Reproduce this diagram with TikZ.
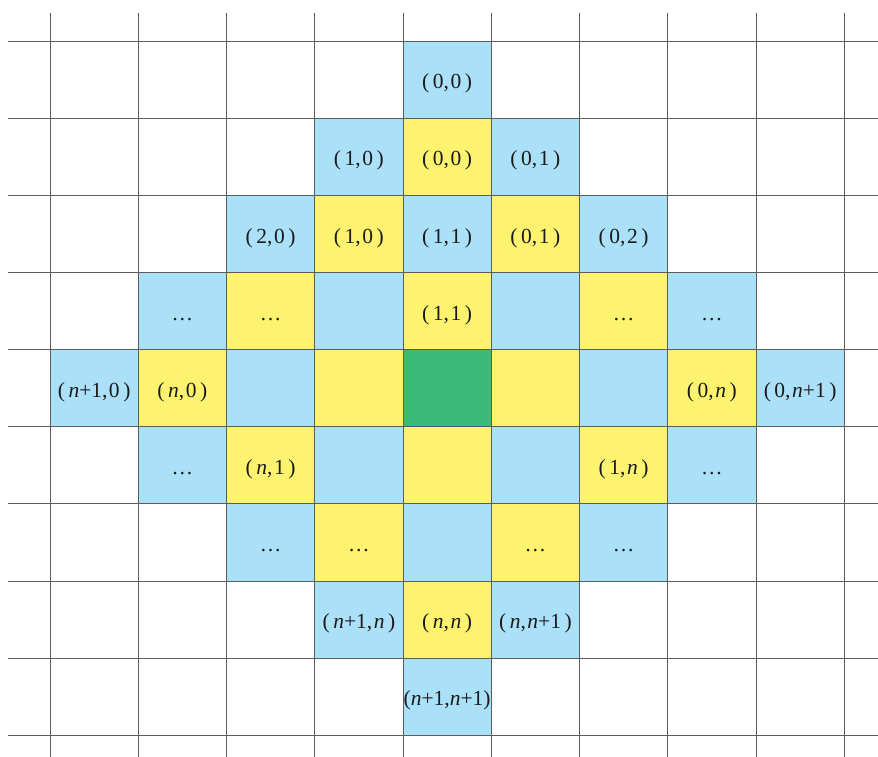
\documentclass[tikz,border=0pt]{standalone}
\usepackage{fontspec}
\setmainfont{Liberation Serif}
\definecolor{cB}{HTML}{ABE0F9}
\definecolor{cY}{HTML}{FEF36E}
\definecolor{cG}{HTML}{3CBA7A}
\definecolor{gridc}{HTML}{5C5C5C}
\definecolor{txt}{HTML}{1A1A1A}
\newcommand\nn{\textit{n}}
\newcommand\pp[2]{(\,#1,\kern1.5pt#2\,)}
\newcommand\ppt[2]{(#1,#2)}
\newcommand\dd{\textellipsis}
\begin{document}
\begin{tikzpicture}[x=1pt,y=-1pt,
  lab/.style={anchor=base,inner sep=0pt,text=txt,font=\fontsize{21.5}{26}\selectfont},
  gridline/.style={draw=gridc,line width=0.9pt}]
\useasboundingbox (0,0) rectangle (878,757);
\foreach \r/\c/\col/\t in {
  0/4/cB/{\pp{0}{0}},
  1/3/cB/{\pp{1}{0}}, 1/4/cY/{\pp{0}{0}}, 1/5/cB/{\pp{0}{1}},
  2/2/cB/{\pp{2}{0}}, 2/3/cY/{\pp{1}{0}}, 2/4/cB/{\pp{1}{1}}, 2/5/cY/{\pp{0}{1}}, 2/6/cB/{\pp{0}{2}},
  3/1/cB/{\dd}, 3/2/cY/{\dd}, 3/3/cB/{}, 3/4/cY/{\pp{1}{1}}, 3/5/cB/{}, 3/6/cY/{\dd}, 3/7/cB/{\dd},
  4/0/cB/{\pp{\nn+1}{0}}, 4/1/cY/{\pp{\nn}{0}}, 4/2/cB/{}, 4/3/cY/{}, 4/4/cG/{}, 4/5/cY/{}, 4/6/cB/{}, 4/7/cY/{\pp{0}{\nn}}, 4/8/cB/{\pp{0}{\nn+1}},
  5/1/cB/{\dd}, 5/2/cY/{\pp{\nn}{1}}, 5/3/cB/{}, 5/4/cY/{}, 5/5/cB/{}, 5/6/cY/{\pp{1}{\nn}}, 5/7/cB/{\dd},
  6/2/cB/{\dd}, 6/3/cY/{\dd}, 6/4/cB/{}, 6/5/cY/{\dd}, 6/6/cB/{\dd},
  7/3/cB/{\pp{\nn+1}{\nn}}, 7/4/cY/{\pp{\nn}{\nn}}, 7/5/cB/{\pp{\nn}{\nn+1}},
  8/4/cB/{\ppt{\nn+1}{\nn+1}}}{
  \fill[\col] ({50+88.25*\c},{41.3+77.1*\r}) rectangle ({50+88.25*(\c+1)},{41.3+77.1*(\r+1)});
  \node[lab] (cell-\r-\c) at ({50+88.25*(\c+0.5)},{41.3+77.1*(\r+0.5)+9}) {\t};
}
\foreach \k in {0,...,9}{
  \draw[gridline] (8,{41.3+77.1*\k}) -- (878,{41.3+77.1*\k});
  \draw[gridline] ({50+88.25*\k},13) -- ({50+88.25*\k},757);
}
\end{tikzpicture}
\end{document}
